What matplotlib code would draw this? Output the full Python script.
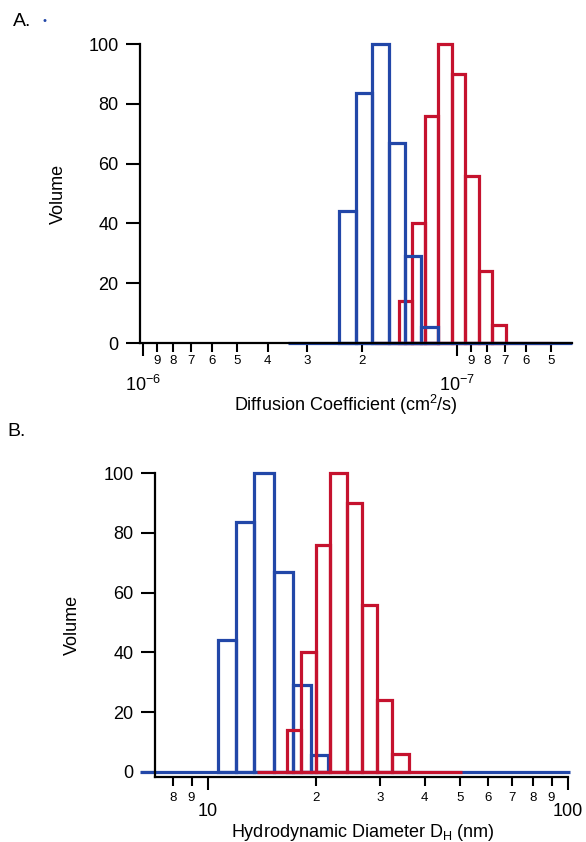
import numpy as np
import matplotlib
matplotlib.use("Agg")
import matplotlib.pyplot as plt
from matplotlib.ticker import FixedLocator, FixedFormatter

plt.rcParams['font.family'] = ['Liberation Sans', 'DejaVu Sans']
plt.rcParams['mathtext.fontset'] = 'custom'
plt.rcParams['mathtext.rm'] = 'Liberation Sans'
plt.rcParams['mathtext.it'] = 'Liberation Sans:italic'
plt.rcParams['mathtext.default'] = 'regular'

blue = '#2247a8'
red = '#c5122e'

# panel A: diffusion coefficient bins (cm^2/s), left to right on the reversed axis
dc_blue_edges = [2.376e-7, 2.098e-7, 1.858e-7, 1.646e-7, 1.459e-7, 1.297e-7, 1.149e-7]
dc_red_edges = [1.530e-7, 1.391e-7, 1.264e-7, 1.147e-7, 1.035e-7, 9.38e-8, 8.51e-8, 7.72e-8, 6.95e-8]
dc_blue_base = [3.45e-7, 4.30e-8]
dc_red_base = [1.84e-7, 4.96e-8]

# panel B: hydrodynamic diameter bins (nm)
dh_blue_edges = [10.65, 11.96, 13.44, 15.30, 17.22, 19.35, 21.60]
dh_red_edges = [16.54, 18.09, 19.91, 21.83, 24.29, 26.83, 29.53, 32.50, 36.17]
dh_blue_base = [6.47, 101.3]
dh_red_base = [13.65, 50.77]

# volumes (same distributions in both panels)
vol_blue = [44, 83.5, 100, 67, 29, 5.5]
vol_red = [14, 40, 76, 100, 90, 56, 24, 6]

dc_major = [1e-6, 1e-7]
dc_major_labels = ['$10^{-6}$', '$10^{-7}$']
dc_minor = [9e-7, 8e-7, 7e-7, 6e-7, 5e-7, 4e-7, 3e-7, 2e-7, 9e-8, 8e-8, 7e-8, 6e-8, 5e-8]
dc_minor_labels = ['9', '8', '7', '6', '5', '4', '3', '2', '9', '8', '7', '6', '5']

dh_major = [10, 100]
dh_major_labels = ['10', '100']
dh_minor = [8, 9, 20, 30, 40, 50, 60, 70, 80, 90]
dh_minor_labels = ['8', '9', '2', '3', '4', '5', '6', '7', '8', '9']

lw = 2.3


def draw_hist(ax, edges, vols, base, color):
    edges = np.array(edges)
    ax.bar(edges[:-1], vols, width=np.diff(edges), align='edge', fill=False,
           edgecolor=color, linewidth=lw, joinstyle='miter', clip_on=False)
    ax.plot(base, [0, 0], color=color, linewidth=lw, solid_capstyle='butt', clip_on=False)


def style_axes(ax, major, major_labels, minor, minor_labels, minor_pad, major_pad):
    ax.set_xscale('log')
    ax.xaxis.set_major_locator(FixedLocator(major))
    ax.xaxis.set_major_formatter(FixedFormatter(major_labels))
    ax.xaxis.set_minor_locator(FixedLocator(minor))
    ax.xaxis.set_minor_formatter(FixedFormatter(minor_labels))
    ax.spines['top'].set_visible(False)
    ax.spines['right'].set_visible(False)
    ax.spines['left'].set_linewidth(1.6)
    ax.spines['bottom'].set_linewidth(1.6)
    ax.tick_params(axis='x', which='major', length=9, width=1.5, pad=major_pad, labelsize=13)
    ax.tick_params(axis='x', which='minor', length=6.5, width=1.5, pad=minor_pad, labelsize=9.5)
    ax.tick_params(axis='y', length=10, width=1.5, pad=5.5, labelsize=13)
    ax.set_yticks([0, 20, 40, 60, 80, 100])
    ax.set_ylabel('Volume', fontsize=13)


fig = plt.figure(figsize=(5.86, 8.42), dpi=100)

# panel A
axA = fig.add_axes([0.2389, 0.5926, 0.737, 0.3551])
draw_hist(axA, dc_red_edges, vol_red, dc_red_base, red)
draw_hist(axA, dc_blue_edges, vol_blue, dc_blue_base, blue)
style_axes(axA, dc_major, dc_major_labels, dc_minor, dc_minor_labels, 2, 14)
axA.set_xlim(1.02e-6, 4.3e-8)
axA.set_ylim(0, 100)
axA.set_xlabel('Diffusion Coefficient (cm$^2$/s)', fontsize=13)
axA.xaxis.set_label_coords(0.477, -0.168)
axA.yaxis.set_label_coords(-0.17, 0.5)

# panel B
axB = fig.add_axes([0.2645, 0.0772, 0.7048, 0.3610])
draw_hist(axB, dh_blue_edges, vol_blue, dh_blue_base, blue)
draw_hist(axB, dh_red_edges, vol_red, dh_red_base, red)
style_axes(axB, dh_major, dh_major_labels, dh_minor, dh_minor_labels, 4, 10)
axB.set_xlim(7.125, 100)
axB.set_ylim(-1.7, 100)
axB.set_xlabel('Hydrodynamic Diameter D$_H$ (nm)', fontsize=13)
axB.xaxis.set_label_coords(0.504, -0.148)
axB.yaxis.set_label_coords(-0.18, 0.5)

fig.text(0.022, 0.974, 'A.', fontsize=14, va='center', ha='left')
fig.text(0.073, 0.9745, '\u2022', fontsize=8, color=blue, va='center', ha='left')
fig.text(0.012, 0.487, 'B.', fontsize=14, va='center', ha='left')

fig.savefig('out.png', dpi=100)
